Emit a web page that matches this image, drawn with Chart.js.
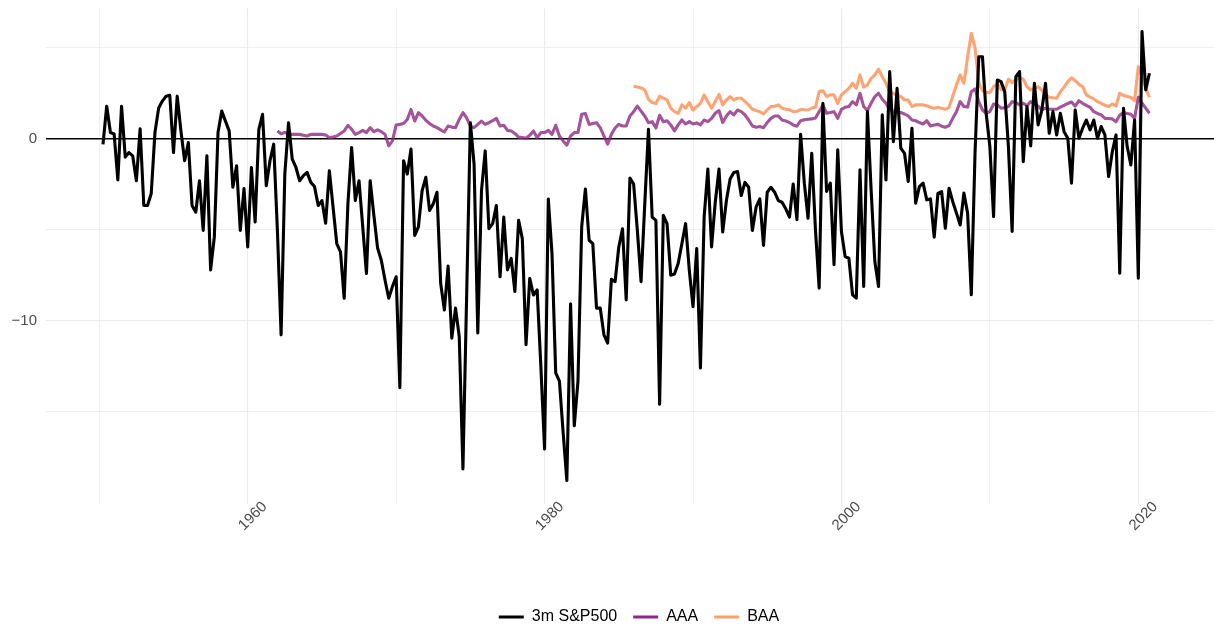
<!DOCTYPE html>
<html>
<head>
<meta charset="utf-8">
<script src="https://cdn.jsdelivr.net/npm/chart.js@4.4.1/dist/chart.umd.min.js"></script>
<style>
  html, body { margin: 0; padding: 0; background: #ffffff; }
  canvas { display: block; }
</style>
</head>
<body>
<canvas id="chart" width="1214" height="629"></canvas>
<script>
// ---------------- data (quarterly) ----------------
const seriesNames = ['3m S&P500', 'AAA', 'BAA'];

const sp500Start = 1950.25;
const sp500 = [
  -0.3, 1.8, 0.35,
  0.27, -2.25, 1.8, -1.0,
  -0.75, -0.93, -2.3, 0.55,
  -3.66, -3.66, -3.0, 0.35,
  1.7, 2.08, 2.35, 2.4,
  -0.75, 2.35, 0.44, -1.2,
  -0.2, -3.66, -4.03, -2.3,
  -5.03, -0.93, -7.2, -5.4,
  0.35, 1.53, 0.98, 0.44,
  -2.66, -1.48, -5.03, -2.73,
  -5.94, -1.57, -4.57, 0.53,
  1.35, -2.57, -1.2, -0.29,
  -5.03, -10.77, -1.93, 0.89,
  -1.11, -1.57, -2.3, -2.02,
  -1.84, -2.39, -2.62, -3.66,
  -3.39, -4.63, -1.75, -3.75,
  -5.75, -6.21, -8.76, -3.57,
  -0.47, -3.39, -2.3, -4.84,
  -7.4, -2.3, -4.2, -6.0,
  -6.67, -7.76, -8.76, -8.12,
  -7.58, -13.68, -1.2, -1.93,
  -0.56, -5.3, -4.84, -2.84,
  -2.11, -3.93, -3.57, -2.93,
  -7.94, -9.4, -6.99, -10.95,
  -9.3, -10.86, -18.14, -8.6,
  0.89, -1.38, -10.67, -2.84,
  -0.66, -4.93, -4.66, -3.66,
  -7.58, -4.3, -7.2, -6.57,
  -8.39, -4.48, -5.48, -11.31,
  -7.67, -8.58, -8.3, -12.5,
  -17.05, -3.3, -6.3, -12.86,
  -13.31, -16.14, -18.78, -9.07,
  -15.77, -13.31, -4.84, -2.75,
  -5.57, -5.76, -9.3, -9.3,
  -10.77, -11.22, -7.72, -7.85,
  -5.94, -4.94, -8.85, -2.15,
  -2.48, -5.03, -7.85, -3.57,
  0.53, -4.3, -4.48, -14.59,
  -4.2, -4.66, -7.49, -7.43,
  -6.85, -5.76, -4.66, -7.21,
  -9.22, -6.03, -12.59, -4.3,
  -1.66, -5.94, -3.48, -1.66,
  -5.12, -3.39, -2.2, -1.84,
  -1.79, -3.11, -2.39, -2.66,
  -5.03, -3.75, -3.3, -5.85,
  -2.93, -2.66, -2.93, -3.39,
  -3.48, -3.84, -4.3, -2.48,
  -4.44, 0.25, -2.43, -4.36,
  -0.79, -5.0, -8.2, 1.96,
  -2.89, -2.43, -6.92, -0.6,
  -5.09, -6.47, -6.56, -8.57,
  -8.75, -1.7, -8.11, 1.5,
  -2.8, -6.74, -8.11, 1.32,
  -2.25, 3.7, -0.15, 2.78,
  -0.51, -0.79, -2.34, 0.59,
  -3.53, -2.62, -2.43, -3.35,
  -3.3, -5.4, -3.0, -2.9,
  -4.91, -2.71, -3.45, -4.08,
  -4.73, -2.98, -4.08, -8.57,
  -0.79, 4.52, 4.52, 1.41,
  -0.42, -4.27, 3.24, 3.15,
  2.6, -0.42, -5.09, 3.42,
  3.7, -1.25, 1.78, -0.38,
  3.06, 0.77, 1.59, 3.06,
  0.31, 1.5, 0.22, 1.41,
  0.4, 0.04, -2.43, 1.59,
  0.04, 0.59, 1.04, 0.49,
  1.04, 0.04, 0.68, 0.22,
  -2.07, -0.7, 0.22, -7.38,
  1.69, -0.42, -1.43, 1.04,
  -7.65, 5.9, 2.69, 3.61
];

const aaaStart = 1962.0;
const aaa = [
  0.44, 0.28, 0.35, 0.3,
  0.25, 0.25, 0.25, 0.2,
  0.16, 0.25, 0.25, 0.25,
  0.25, 0.22, 0.07, 0.1,
  0.16, 0.3, 0.44, 0.75,
  0.53, 0.25, 0.35, 0.47,
  0.35, 0.62, 0.4, 0.5,
  0.4, 0.25, -0.38, -0.11,
  0.77, 0.8, 0.85, 1.07,
  1.62, 0.98, 1.44, 1.26,
  1.02, 0.85, 0.71, 0.62,
  0.5, 0.38, 0.71, 0.65,
  0.62, 1.07, 1.44, 1.16,
  0.7, 0.62, 0.8, 0.98,
  0.8, 0.89, 1.0, 1.13,
  0.71, 0.75, 0.47, 0.44,
  0.3, 0.1, 0.07, 0.04,
  0.2, 0.44, 0.07, 0.35,
  0.35, 0.47, 0.25, 0.75,
  0.16, -0.11, -0.34, 0.16,
  0.35, 0.35, 1.35, 1.4,
  0.8, 0.85, 0.89, 0.62,
  0.16, -0.29, 0.25, 0.6,
  0.8, 0.71, 0.71, 1.26,
  1.5, 1.8, 1.53, 1.26,
  0.89, 0.95, 0.6, 1.3,
  0.95, 1.0, 0.77, 0.44,
  0.77, 1.04, 0.82, 0.95,
  0.82, 0.88, 0.77, 1.04,
  0.95, 1.13, 1.41, 1.56,
  0.9, 1.26, 1.5, 1.32,
  1.59, 1.5, 1.32, 1.04,
  0.71, 0.64, 0.68, 0.62,
  0.9, 1.13, 1.26, 1.26,
  1.04, 0.99, 0.9, 0.77,
  0.7, 1.0, 1.05, 1.08,
  1.1, 1.15, 1.5, 1.87,
  1.41, 1.45, 1.5, 1.13,
  1.63, 1.74, 1.78, 2.05,
  1.87, 2.51, 1.78, 1.56,
  1.96, 2.33, 2.51, 2.18,
  1.96, 1.6, 1.5, 1.5,
  1.45, 1.37, 1.26, 1.04,
  1.0, 0.9, 0.82, 1.0,
  0.71, 0.77, 0.8, 0.7,
  0.64, 0.73, 1.13, 1.5,
  2.05, 1.78, 1.75, 2.6,
  2.75, 2.05, 1.59, 1.41,
  1.5, 1.92, 1.87, 1.69,
  1.72, 1.78, 2.05, 2.0,
  1.87, 1.96, 1.82, 2.05,
  1.95, 1.8, 1.59, 1.69,
  1.63, 1.63, 1.63, 1.75,
  1.85, 1.95, 2.03, 1.8,
  2.1, 1.96, 1.85, 1.74,
  1.5, 1.4, 1.32, 1.13,
  1.12, 1.1, 0.95, 1.3,
  1.45, 1.4, 1.36, 1.13,
  2.29, 1.96, 1.69, 1.41
];

const baaStart = 1986.0;
const baa = [
  2.9, 2.85, 2.8, 2.7,
  2.17, 2.0, 1.95, 2.35,
  2.24, 2.14, 1.69, 1.5,
  1.41, 1.87, 1.69, 2.0,
  1.59, 1.78, 1.96, 2.42,
  2.05, 1.69, 2.05, 2.45,
  1.87, 2.14, 2.33, 2.14,
  2.24, 2.24, 2.05, 1.87,
  1.63, 1.56, 1.5, 1.37,
  1.6, 1.78, 1.8, 1.87,
  1.69, 1.63, 1.6, 1.5,
  1.52, 1.63, 1.6, 1.59,
  1.7, 1.74, 2.6, 2.65,
  2.33, 2.42, 2.42, 1.96,
  2.42, 2.6, 2.78, 3.06,
  2.78, 3.52, 2.84, 2.97,
  3.33, 3.52, 3.83, 3.42,
  3.06, 2.6, 2.51, 2.4,
  2.33, 2.14, 2.14, 1.78,
  1.87, 1.87, 1.87, 1.82,
  1.74, 1.69, 1.74, 1.68,
  1.63, 1.74, 2.36, 2.97,
  3.52, 3.06, 4.5, 5.8,
  5.0, 3.1, 2.65, 2.55,
  2.55, 2.87, 3.06, 2.7,
  2.69, 3.28, 3.1, 3.25,
  3.39, 3.28, 2.87, 2.69,
  2.8, 2.87, 2.69, 2.42,
  2.29, 2.26, 2.24, 2.6,
  2.85, 3.15, 3.36, 3.2,
  3.0, 2.87, 2.42, 2.3,
  2.2, 2.05, 1.96, 1.85,
  1.78, 1.92, 1.82, 2.51,
  2.4, 2.33, 2.29, 2.1,
  3.97, 3.42, 2.78, 2.29
];

const xGridYears  = [1950, 1960, 1970, 1980, 1990, 2000, 2010, 2020];
const xLabelYears = [1960, 1980, 2000, 2020];
const yGridValues = [5, 0, -5, -10, -15];
const yLabelValues = [0, -10];

// ---------------- styles ----------------
const lineColors   = ['#000000', 'rgba(140,41,129,0.8)', 'rgba(254,159,109,0.95)'];
const legendColors = ['#000000', '#8C2981', '#FE9F6D'];
const FONT = "'Liberation Sans', Arial, Helvetica, sans-serif";

function toPoints(start, values) {
  return values.map((v, i) => ({ x: start + i * 0.25, y: v }));
}

Chart.defaults.font.family = FONT;

const datasets = [
  { label: seriesNames[0], data: toPoints(sp500Start, sp500) },
  { label: seriesNames[1], data: toPoints(aaaStart, aaa) },
  { label: seriesNames[2], data: toPoints(baaStart, baa) }
].map((d, i) => Object.assign(d, {
  borderColor: lineColors[i],
  backgroundColor: lineColors[i],
  borderWidth: 3.1,
  pointRadius: 0,
  pointHoverRadius: 0,
  tension: 0,
  fill: false,
  borderJoinStyle: 'round',
  borderCapStyle: 'butt'
}));

// shift the centred legend slightly right, as in the reference layout
const legendShift = {
  id: 'legendShift',
  afterLayout(chart) {
    if (chart.legend) { chart.legend.left += 9; chart.legend.right += 9; }
  }
};

new Chart(document.getElementById('chart'), {
  type: 'line',
  data: { datasets },
  plugins: [legendShift],
  options: {
    responsive: false,
    animation: false,
    devicePixelRatio: 1,
    events: [],
    layout: { padding: { top: 8.5, left: 0, right: 0, bottom: -6 } },
    plugins: {
      tooltip: { enabled: false },
      legend: {
        display: true,
        position: 'bottom',
        fullSize: false,
        labels: {
          usePointStyle: true,
          pointStyleWidth: 25,
          padding: 16,
          color: '#000000',
          font: { size: 16, family: FONT },
          generateLabels: (chart) => chart.data.datasets.map((ds, i) => ({
            text: ds.label,
            fillStyle: legendColors[i],
            strokeStyle: legendColors[i],
            lineWidth: 3,
            pointStyle: 'line',
            hidden: false,
            datasetIndex: i,
            fontColor: '#000000'
          }))
        }
      }
    },
    scales: {
      x: {
        type: 'linear',
        min: 1946.41,
        max: 2025.1,
        afterBuildTicks: (scale) => { scale.ticks = xGridYears.map(v => ({ value: v })); },
        afterFit: (scale) => {
          scale.height = 89;
          scale.paddingLeft = 0; scale.paddingRight = 0;
          scale.paddingTop = 0; scale.paddingBottom = 0;
          // let the rotated labels reach slightly above the axis box, unclipped
          scale._computeLabelArea = () => undefined;
        },
        border: { display: false },
        grid: {
          drawTicks: false,
          color: '#ebebeb',
          lineWidth: (ctx) => (ctx.tick && xLabelYears.includes(ctx.tick.value)) ? 1.1 : 0.8
        },
        ticks: {
          autoSkip: false,
          minRotation: 45,
          maxRotation: 45,
          labelOffset: 17,
          padding: -6,
          color: '#4d4d4d',
          font: { size: 15, family: FONT },
          callback: (value) => xLabelYears.includes(value) ? String(value) : ''
        }
      },
      y: {
        type: 'linear',
        min: -20.07,
        max: 7.17,
        afterBuildTicks: (scale) => { scale.ticks = yGridValues.map(v => ({ value: v })); },
        afterFit: (scale) => {
          scale.width = 46;
          scale.paddingTop = 0; scale.paddingBottom = 0;
          scale.paddingLeft = 0; scale.paddingRight = 0;
        },
        border: { display: false },
        grid: {
          drawTicks: false,
          color: (ctx) => (ctx.tick && ctx.tick.value === 0) ? '#000000' : '#ebebeb',
          lineWidth: (ctx) => {
            if (!ctx.tick) return 1;
            if (ctx.tick.value === 0) return 1.6;
            return yLabelValues.includes(ctx.tick.value) ? 1.1 : 0.8;
          }
        },
        ticks: {
          padding: 9,
          color: '#4d4d4d',
          font: { size: 15, family: FONT },
          callback: (value) => value === 0 ? '0' : (value === -10 ? '\u221210' : '')
        }
      }
    }
  }
});
</script>
</body>
</html>
